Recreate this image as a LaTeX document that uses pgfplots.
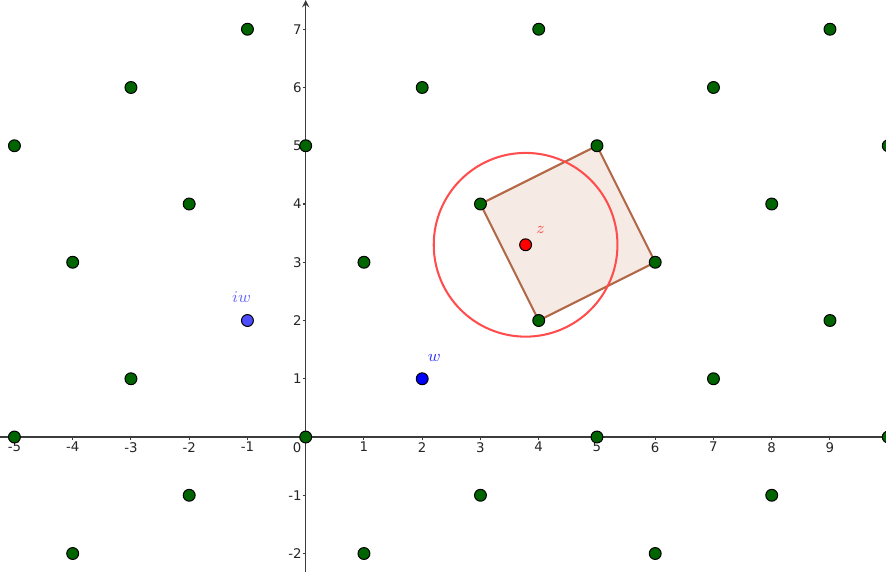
\documentclass[border=0pt]{standalone}
\usepackage{fontspec}
\setsansfont{DejaVu Sans}
\usepackage{pgfplots}
\pgfplotsset{compat=1.18}
\definecolor{ptgreen}{RGB}{0,100,0}
\definecolor{wblue}{RGB}{0,0,255}
\definecolor{iwblue}{RGB}{77,77,255}
\definecolor{circred}{RGB}{255,77,77}
\definecolor{sqedge}{RGB}{178,104,70}
\definecolor{sqfill}{RGB}{245,234,228}
\definecolor{axgray}{RGB}{60,60,60}
\begin{document}
\begin{tikzpicture}
\begin{axis}[
  name=ax,
  scale only axis,
  width=15.21cm, height=9.82cm,
  xmin=-5.248, xmax=9.962, ymin=-2.318, ymax=7.502,
  axis lines=middle,
  axis line style={axgray, line width=0.6pt},
  x axis line style={-},
  y axis line style={-stealth},
  xtick={-5,-4,-3,-2,-1,1,2,3,4,5,6,7,8,9},
  ytick={-2,-1,1,2,3,4,5,6,7},
  tick align=outside,
  major tick length=1.5pt,
  tick style={axgray, line width=0.5pt},
  /pgf/number format/assume math mode=true,
  ticklabel style={font=\sffamily\fontsize{6.5}{7}\selectfont, text=black!85},
  xticklabel style={yshift=2.5pt},
  yticklabel style={xshift=3pt},
  clip=false,
]
\addplot[draw=sqedge, line width=1pt, fill=sqfill] coordinates {(3,4) (5,5) (6,3) (4,2)} -- cycle;
\draw[circred, line width=1pt] (axis cs:3.775,3.30) circle[radius=1.577];
\addplot[only marks, mark=*, mark size=2.9pt, mark options={fill=ptgreen, draw=black, line width=0.5pt}] coordinates {
(-1,7) (4,7) (9,7)
(-3,6) (2,6) (7,6)
(-5,5) (0,5) (5,5) (10,5)
(-2,4) (3,4) (8,4)
(-4,3) (1,3) (6,3)
(4,2) (9,2)
(-3,1) (7,1)
(-5,0) (0,0) (5,0) (10,0)
(-2,-1) (3,-1) (8,-1)
(-4,-2) (1,-2) (6,-2)
};
\addplot[only marks, mark=*, mark size=2.9pt, mark options={fill=wblue, draw=black, line width=0.5pt}] coordinates {(2,1)};
\addplot[only marks, mark=*, mark size=2.9pt, mark options={fill=iwblue, draw=black, line width=0.5pt}] coordinates {(-1,2)};
\addplot[only marks, mark=*, mark size=2.9pt, mark options={fill=red, draw=black, line width=0.5pt}] coordinates {(3.775,3.30)};
\node[text=red!65, font=\fontsize{8.5}{9}\selectfont] at (axis cs:4.03,3.55) {$z$};
\node[text=wblue!80, font=\fontsize{8.5}{9}\selectfont] at (axis cs:2.21,1.36) {$w$};
\node[text=iwblue!85, font=\fontsize{8.5}{9}\selectfont] at (axis cs:-1.10,2.40) {$iw$};
\node[anchor=north east, font=\sffamily\fontsize{6.5}{7}\selectfont, text=black!85, inner sep=0pt] at (axis cs:-0.07,-0.09) {0};
\end{axis}
\pgfresetboundingbox
\path (ax.south west) rectangle (ax.north east);
\end{tikzpicture}
\end{document}
